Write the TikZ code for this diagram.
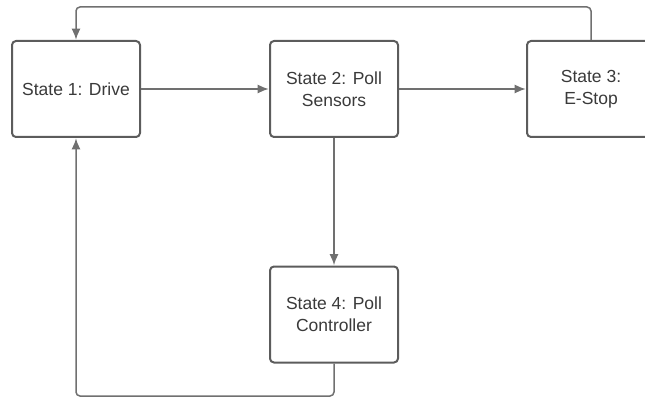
\documentclass[tikz,border=0pt]{standalone}
\usepackage{fontspec}
\setmainfont{Liberation Sans}
\usetikzlibrary{positioning, arrows.meta}

\begin{document}
\begin{tikzpicture}[x=1pt, y=-1pt]
    \tikzset{every path/.style={shorten >=0.1mm}}
\definecolor{Box_grey}{RGB}{92,92,92}
\definecolor{Line_grey}{RGB}{112,112,112}
\definecolor{Text_grey}{RGB}{58,58,58}
\tikzset{statebox/.style={rectangle, rounded corners=4pt, draw=Box_grey, line width=2pt, fill=white,
    minimum width=128pt, minimum height=96pt, align=center, text=Text_grey,
    font=\fontsize{17.5}{22}\selectfont}}
\tikzset{link/.style={draw=Line_grey, line width=1.5pt, rounded corners=4pt,
    -{Latex[length=11pt, width=9pt]}}}
\useasboundingbox (0,0) rectangle (645,398);
\clip (0,0) rectangle (645,398);
% Zustaende
\node[statebox] (state1) at (76,89) {State 1: Drive};
\node[statebox] (state2) at (334,89) {State 2: Poll\\Sensors};
\node[statebox] (state3) at (591,89) {State 3:\\E-Stop};
\node[statebox] (state4) at (334,314.5) {State 4: Poll\\Controller};

% Rueckfuehrungen
\coordinate (loopTop) at (0,7);
\coordinate (loopBot) at (0,396);

% Verbindungen
\draw[link] (state1.east) -- (state2.west);
\draw[link] (state2.east) -- (state3.west);
\draw[link] (state2.south) -- (state4.north);
\draw[link] (state3.north) -- (state3.north |- loopTop) -| (state1.north);
\draw[link] (state4.south) -- (state4.south |- loopBot) -| (state1.south);

\end{tikzpicture}
\end{document}
